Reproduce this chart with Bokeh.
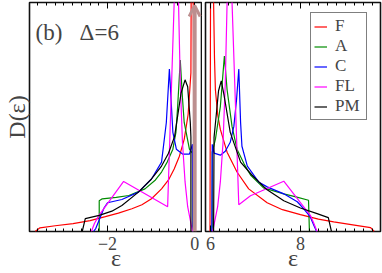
from bokeh.plotting import figure
from bokeh.layouts import row
from bokeh.models import (Range1d, LinearAxis, SingleIntervalTicker, FixedTicker,
                          Legend, LegendItem, Label, Arrow, OpenHead, CustomJSTickFormatter)
from bokeh.embed import file_html
from bokeh.resources import INLINE

# ---------------- data ----------------
series_names = ["F", "A", "C", "FL", "PM"]
series_colors = ["#ff0000", "#008b00", "#0000ff", "#ff00ff", "#000000"]

# left panel (lower band, eps < 0)
F_eps_L = [-3.66, -3.55, -3.2, -2.79, -2.4, -2.05, -1.75, -1.44, -1.21, -0.99, -0.76, -0.6,
           -0.47, -0.35, -0.24, -0.15, -0.086, -0.08, -0.07, -0.01]
F_D_L = [0, 3.7, 5.8, 8, 11, 15, 18.5, 23, 27, 33, 43, 52, 63, 76, 93, 118, 160, 240, 600, 0]
A_eps_L = [-2.19, -2.19, -2.12, -1.8, -1.51, -1.14, -0.9, -0.76, -0.63, -0.5, -0.43, -0.39,
           -0.33, -0.28, -0.24, -0.12, -0.07, -0.05, -0.05]
A_D_L = [0, 31, 33, 34.5, 36.3, 43, 52, 60, 70, 83, 100, 126, 173, 135, 110, 83, 80, 79, 0]
C_eps_L = [-2.32, -2.27, -2.08, -2.0, -1.67, -1.29, -0.99, -0.76, -0.65, -0.58, -0.50, -0.42,
           -0.27, -0.12, -0.05, -0.04]
C_D_L = [0, 3, 23.7, 29, 32.3, 39.7, 53, 70, 110, 164, 100, 83, 78, 78, 88, 0]
FL_eps_L = [-2.37, -2.3, -2.2, -1.63, -0.62, -0.47, -0.43, -0.37, -0.33, -0.28, -0.22, -0.16, -0.05]
FL_D_L = [0, 8, 16, 50.5, 25, 231, 700, 231, 150, 90, 50, 25, 0]
PM_eps_L = [-2.58, -2.51, -2.19, -1.9, -1.67, -1.29, -0.99, -0.76, -0.6, -0.46, -0.31, -0.22,
            -0.16, -0.10, -0.086, -0.086]
PM_D_L = [0, 13, 16.3, 20.5, 26.3, 39.7, 53, 66, 79, 96, 140, 153, 146, 110, 95, 0]

# right panel (upper band, eps > 6)
F_eps_R = [5.99, 6.02, 6.07, 6.09, 6.11, 6.16, 6.22, 6.37, 6.59, 6.85, 7.26, 7.6, 8.0, 8.4,
           8.74, 9.2, 9.56, 9.64]
F_D_R = [0, 600, 231, 175, 143, 118, 103, 80, 60, 43, 29, 22, 17, 12.5, 9.7, 6.5, 4, 0]
A_eps_R = [6.04, 6.04, 6.11, 6.22, 6.28, 6.31, 6.37, 6.48, 6.59, 6.75, 6.89, 7.18, 7.63, 7.9,
           8.18, 8.2]
A_D_R = [0, 80, 93, 126, 160, 177, 143, 106, 83, 68, 57, 44, 38, 35, 31.5, 0]
C_eps_R = [6.03, 6.04, 6.08, 6.22, 6.33, 6.44, 6.52, 6.58, 6.63, 6.67, 6.70, 6.82, 7.07, 7.26,
           7.63, 7.93, 8.07, 8.22, 8.30, 8.36]
C_D_R = [0, 88, 79, 77, 81, 90, 106, 133, 164, 110, 86, 66, 50, 45, 38, 30, 23, 14.7, 6, 0]
FL_eps_R = [6.05, 6.16, 6.22, 6.28, 6.33, 6.37, 6.43, 6.48, 6.63, 6.89, 7.63, 8.22, 8.3, 8.37]
FL_D_R = [0, 25, 50, 90, 150, 231, 700, 231, 27, 36, 50.7, 16.3, 8, 0]
PM_eps_R = [6.07, 6.08, 6.13, 6.18, 6.24, 6.30, 6.44, 6.67, 6.92, 7.26, 7.63, 8.0, 8.37, 8.62, 8.69]
PM_D_R = [0, 95, 118, 142, 152, 138, 100, 70, 57, 42, 31, 23.7, 18, 14, 0]

left_x = [F_eps_L, A_eps_L, C_eps_L, FL_eps_L, PM_eps_L]
left_y = [F_D_L, A_D_L, C_D_L, FL_D_L, PM_D_L]
right_x = [F_eps_R, A_eps_R, C_eps_R, FL_eps_R, PM_eps_R]
right_y = [F_D_R, A_D_R, C_D_R, FL_D_R, PM_D_R]

panel_label = "(b)"
delta_label = "Δ=6"
x_title = "ε"
y_title = "D(ε)"
arrow_eps = 0.0
arrow_top = 228

# ---------------- styling ----------------
SERIF = "Liberation Serif"
BROWN = "#bc8f8f"
H = 273


def style_xaxis(ax, labels=True):
    ax.ticker = SingleIntervalTicker(interval=2, num_minor_ticks=10)
    ax.axis_line_color = None
    ax.major_tick_in = 6
    ax.major_tick_out = 0
    ax.minor_tick_in = 3
    ax.minor_tick_out = 0
    ax.major_tick_line_color = "black"
    ax.minor_tick_line_color = "black"
    if labels:
        ax.major_label_text_font = SERIF
        ax.major_label_text_font_size = "18px"
        ax.major_label_standoff = 5
        ax.axis_label = x_title
        ax.axis_label_text_font = SERIF
        ax.axis_label_text_font_size = "24px"
        ax.axis_label_text_font_style = "normal"
        ax.axis_label_standoff = -8
    else:
        ax.formatter = CustomJSTickFormatter(code="return ''")
        ax.major_label_standoff = 0


def make_panel(width, xr, bl, br):
    p = figure(width=width, height=H, x_range=Range1d(*xr), y_range=Range1d(0, 231),
               output_backend="svg", toolbar_location=None,
               min_border_left=bl, min_border_right=br, min_border_top=2, min_border_bottom=40)
    p.grid.visible = False
    p.outline_line_color = "#111111"
    p.outline_line_width = 1.6
    style_xaxis(p.xaxis[0])
    top = LinearAxis()
    style_xaxis(top, labels=False)
    p.add_layout(top, "above")
    return p


p1 = make_panel(202, (-3.79, 0.18), 26, 0)
p1.yaxis.ticker = FixedTicker(ticks=[])
p1.yaxis.axis_line_color = None
p1.yaxis.major_tick_line_color = None
p1.yaxis.minor_tick_line_color = None
p1.yaxis.axis_label = y_title
p1.yaxis.axis_label_text_font = SERIF
p1.yaxis.axis_label_text_font_size = "24px"
p1.yaxis.axis_label_text_font_style = "normal"
p1.yaxis.axis_label_standoff = 0

p2 = make_panel(180, (5.89, 9.78), 3, 2)
p2.yaxis.visible = False

for xs, ys, c in zip(left_x, left_y, series_colors):
    p1.line(xs, ys, line_color=c, line_width=1.2)

rends = []
for xs, ys, c in zip(right_x, right_y, series_colors):
    rends.append(p2.line(xs, ys, line_color=c, line_width=1.2))

p1.add_layout(Arrow(end=OpenHead(size=11, line_color=BROWN, line_width=3),
                    x_start=arrow_eps, y_start=0, x_end=arrow_eps, y_end=arrow_top,
                    line_color=BROWN, line_width=4))

p1.add_layout(Label(x=-3.65, y=201, text=panel_label, text_font=SERIF,
                    text_font_size="23px", text_baseline="alphabetic"))
p1.add_layout(Label(x=-2.64, y=201, text=delta_label, text_font=SERIF,
                    text_font_size="23px", text_baseline="alphabetic"))

legend = Legend(items=[LegendItem(label=n, renderers=[r]) for n, r in zip(series_names, rends)],
                location=(105, 111))
legend.border_line_color = "black"
legend.border_line_width = 1.2
legend.background_fill_alpha = 1
legend.label_text_font = SERIF
legend.label_text_font_size = "17px"
legend.glyph_width = 13
legend.glyph_height = 17
legend.label_height = 17
legend.label_width = 28
legend.label_standoff = 8
legend.padding = 3
legend.spacing = -4
legend.margin = 0
p2.add_layout(legend)

layout = row(p1, p2, spacing=0)
open("out.html", "w").write(file_html(layout, INLINE))
